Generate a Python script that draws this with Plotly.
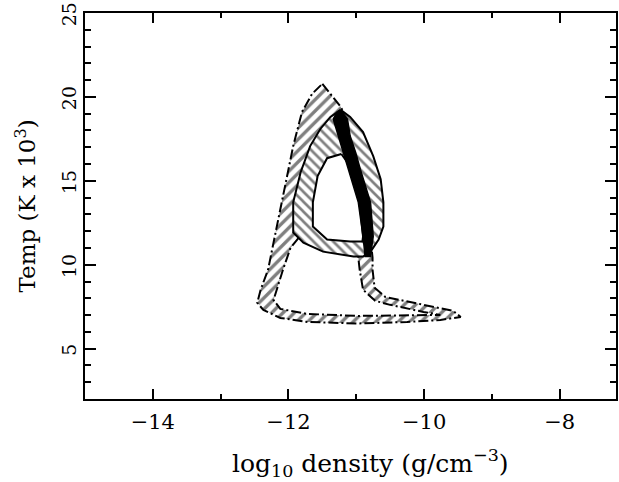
import plotly.graph_objects as go

# ---- data (log10 density, Temp in 10^3 K) ----
# outer boundary of the dashed-contour band ("/" hatching)
dash_out_x = [-11.50, -11.35, -11.23, -10.91, -10.80, -10.78, -10.76, -10.76, -10.73, -10.57,
              -10.01, -9.57, -9.46, -9.76, -10.25, -10.98, -11.72, -12.12, -12.37, -12.46,
              -12.41, -12.30, -12.22, -12.12, -12.02, -11.93, -11.80, -11.65, -11.50]
dash_out_y = [20.78, 20.01, 19.41, 16.89, 13.90, 11.20, 10.43, 9.71, 8.63, 8.08,
              7.61, 7.25, 6.89, 6.71, 6.59, 6.50, 6.59, 6.83, 7.31, 7.73,
              8.51, 9.71, 11.32, 13.30, 15.10, 17.07, 19.11, 20.19, 20.78]
# hole of the dashed-contour band
dash_in_x = [-11.85, -11.97, -12.08, -12.18, -12.22, -12.12, -11.72, -10.98, -10.25, -9.76,
             -10.01, -10.50, -10.72, -10.90, -10.95, -10.97, -10.95, -11.40, -11.85]
dash_in_y = [11.60, 11.00, 9.71, 8.51, 7.90, 7.37, 7.07, 6.95, 7.01, 7.01,
             7.19, 7.61, 7.85, 8.51, 9.71, 10.43, 10.90, 11.20, 11.60]
# outer boundary of the solid-contour region ("\" hatching)
solid_out_x = [-11.23, -11.09, -10.90, -10.75, -10.64, -10.60, -10.60, -10.67, -10.79, -10.90,
               -11.04, -11.49, -11.78, -11.93, -11.93, -11.82, -11.68, -11.53, -11.38, -11.23]
solid_out_y = [19.23, 18.81, 17.91, 16.47, 15.10, 13.72, 12.28, 11.50, 10.78, 10.49,
               10.49, 10.78, 11.32, 11.92, 13.72, 15.51, 17.07, 18.09, 18.81, 19.23]
# inner hole of the solid-contour region
solid_in_x = [-11.22, -11.09, -11.01, -10.94, -10.90, -10.91, -11.09, -11.43, -11.64, -11.64,
              -11.57, -11.43, -11.22]
solid_in_y = [16.60, 15.87, 14.92, 13.30, 11.68, 11.38, 11.38, 11.50, 12.28, 13.72,
              15.28, 16.35, 16.60]
# filled black crescent
black_x = [-11.23, -11.13, -11.09, -11.01, -10.94, -10.79, -10.75, -10.79,
           -10.87, -10.90, -10.97, -11.12, -11.19, -11.26, -11.34, -11.28, -11.23]
black_y = [19.23, 18.68, 17.67, 16.71, 15.69, 13.72, 11.68, 10.49,
           10.49, 11.68, 13.72, 15.69, 16.71, 17.67, 18.68, 19.11, 19.23]

x_ticks = [-14, -12, -10, -8]
y_ticks = [5, 10, 15, 20, 25]

DASH = "10px,3px,2px,3px"
fig = go.Figure()
fig.add_trace(go.Scatter(x=dash_out_x, y=dash_out_y, mode="lines", fill="toself",
                         fillpattern=dict(shape="/", fgcolor="black", bgcolor="white",
                                          size=8, solidity=0.42),
                         line=dict(color="black", width=2, dash=DASH)))
fig.add_trace(go.Scatter(x=dash_in_x, y=dash_in_y, mode="lines", fill="toself",
                         fillcolor="white", line=dict(color="black", width=2, dash=DASH)))
fig.add_trace(go.Scatter(x=solid_out_x, y=solid_out_y, mode="lines", fill="toself",
                         fillpattern=dict(shape="\\", fgcolor="black", bgcolor="white",
                                          size=7, solidity=0.38),
                         line=dict(color="black", width=2)))
fig.add_trace(go.Scatter(x=solid_in_x, y=solid_in_y, mode="lines", fill="toself",
                         fillcolor="white", line=dict(color="black", width=2)))
fig.add_trace(go.Scatter(x=black_x, y=black_y, mode="lines", fill="toself",
                         fillcolor="black", line=dict(color="black", width=1.5)))

font = dict(family="DejaVu Serif", size=21, color="black")
fig.update_layout(
    width=619, height=482,
    margin=dict(l=85, r=3, t=13, b=83),
    plot_bgcolor="white", paper_bgcolor="white",
    showlegend=False, hovermode=False,
    font=font,
    xaxis=dict(range=[-15, -7.17], tickvals=x_ticks, ticks="inside", ticklen=10,
               tickwidth=1.5, tickcolor="black", showline=True, linecolor="black",
               linewidth=1.5, mirror="ticks", showgrid=False, zeroline=False,
               automargin=False, ticklabeloverflow="allow",
               minor=dict(dtick=1, ticks="inside", ticklen=5, tickwidth=1.5,
                          tickcolor="black", showgrid=False),
               ticklabelstandoff=3),
    yaxis=dict(range=[2, 25], tickvals=y_ticks, ticks="inside", ticklen=11,
               tickwidth=1.5, tickcolor="black", showline=True, linecolor="black",
               linewidth=1.5, mirror="ticks", showgrid=False, zeroline=False,
               tickangle=-90, automargin=False, ticklabeloverflow="allow",
               tickfont=dict(family="DejaVu Serif", size=19, color="black"),
               minor=dict(dtick=1, ticks="inside", ticklen=6, tickwidth=1.5,
                          tickcolor="black", showgrid=False),
               ticklabelstandoff=0, ticklabelshift=4),
    annotations=[
        dict(text="log<sub>10</sub> density (g/cm<sup>−3</sup>)", xref="paper", yref="paper",
             x=0.537, y=-0.167, xanchor="center", yanchor="middle", showarrow=False,
             font=dict(family="DejaVu Serif", size=25, color="black")),
        dict(text="Temp (K x 10<sup>3</sup>)", xref="paper", yref="paper",
             x=-0.112, y=0.5, xanchor="center", yanchor="middle", showarrow=False,
             textangle=-90, font=dict(family="DejaVu Serif", size=23, color="black")),
    ],
)
fig.write_html("out.html", config={"displayModeBar": False},
               post_script="document.body.style.margin='0px';")
